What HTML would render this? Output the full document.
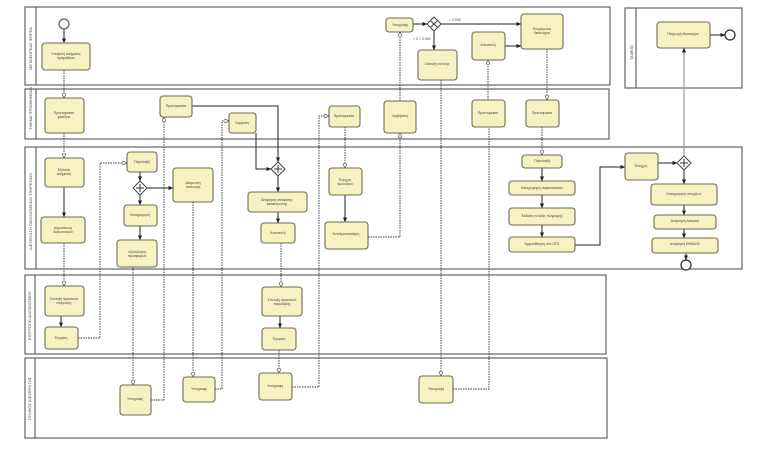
<!DOCTYPE html>
<html><head><meta charset="utf-8"><style>
html,body{margin:0;padding:0;background:#fff;}
svg{display:block;}
.p{fill:none;stroke:#555;stroke-width:1.1}
.t{fill:#f7f2c2;stroke:#6b6b55;stroke-width:1.1}
.s{fill:none;stroke:#222;stroke-width:1}
.d{fill:none;stroke:#333;stroke-width:0.9;stroke-dasharray:1.5 1}
.g{fill:none;stroke:#999;stroke-width:1.2}
text{font-family:"Liberation Sans",sans-serif;fill:#444;}
.x{font-size:3.4px;text-anchor:middle}
.l{font-size:4px}
</style></head><body>
<svg width="768" height="450" viewBox="0 0 768 450">
<defs>
<marker id="a" markerWidth="5" markerHeight="5" refX="4.5" refY="2.5" orient="auto" markerUnits="userSpaceOnUse"><path d="M0,0.5 L5,2.5 L0,4.5z" fill="#222"/></marker>
<marker id="o" markerWidth="5" markerHeight="5" refX="4.5" refY="2.5" orient="auto" markerUnits="userSpaceOnUse"><path d="M0,0.5 L5,2.5 L0,4.5z" fill="#fff" stroke="#333" stroke-width="0.6"/></marker>
</defs>
<!-- pools -->
<rect class="p" x="25" y="7" width="585" height="78"/><line class="p" x1="36" y1="7" x2="36" y2="85"/>
<rect class="p" x="25" y="89" width="584" height="50"/><line class="p" x1="36" y1="89" x2="36" y2="139"/>
<rect class="p" x="25" y="147" width="717" height="122"/><line class="p" x1="36" y1="147" x2="36" y2="269"/>
<rect class="p" x="25" y="275" width="581" height="79"/><line class="p" x1="35" y1="275" x2="35" y2="354"/>
<rect class="p" x="25" y="358" width="582" height="80"/><line class="p" x1="35" y1="358" x2="35" y2="438"/>
<rect class="p" x="625" y="8" width="117" height="80"/><line class="p" x1="636" y1="8" x2="636" y2="88"/>
<g class="l">
<text transform="translate(32,70) rotate(-90)">ΜΕΤΑΦΟΡΕΑΣ ΦΟΡΕΑ</text>
<text transform="translate(32,130) rotate(-90)">ΤΜΗΜΑ ΠΡΟΜΗΘΕΙΩΝ</text>
<text transform="translate(32,250) rotate(-90)">ΔΙΕΥΘΥΝΣΗ ΟΙΚΟΝΟΜΙΚΩΝ ΥΠΗΡΕΣΙΩΝ</text>
<text transform="translate(31,340) rotate(-90)">ΕΠΙΤΡΟΠΗ ΔΙΑΓΩΝΙΣΜΟΥ</text>
<text transform="translate(31,420) rotate(-90)">ΓΕΝΙΚΟΣ ΔΙΕΥΘΥΝΤΗΣ</text>
<text transform="translate(633,60) rotate(-90)">ΤΑΜΕΙΟ</text>
</g>
<!-- connectors -->
<g>
<line class="s" x1="64" y1="29" x2="64" y2="43" marker-end="url(#a)"/>
<path class="d" d="M64,70 V98" marker-end="url(#o)"/>
<path class="d" d="M64,133 V158" marker-end="url(#o)"/>
<path class="s" d="M64,187 V217" marker-end="url(#a)"/>
<path class="d" d="M64,243 V286" marker-end="url(#o)"/>
<path class="s" d="M61,316 V327" marker-end="url(#a)"/>
<path class="d" d="M78,338 H100 V163 H127" marker-end="url(#o)"/>
<path class="s" d="M140,172 V181" marker-end="url(#a)"/>
<path class="s" d="M140,195 V205" marker-end="url(#a)"/>
<path class="s" d="M147,188 H173" marker-end="url(#a)"/>
<path class="s" d="M140,226 V240" marker-end="url(#a)"/>
<path class="d" d="M133,267 V385" marker-end="url(#o)"/>
<path class="d" d="M151,400 H164 V117" marker-end="url(#o)"/>
<path class="d" d="M193,202 V377" marker-end="url(#o)"/>
<path class="d" d="M215,389 H222 V121 H229" marker-end="url(#o)"/>
<path class="s" d="M192,106 H278 V162" marker-end="url(#a)"/>
<path class="s" d="M256,133 V169 H271" marker-end="url(#a)"/>
<path class="s" d="M278,176 V192" marker-end="url(#a)"/>
<path class="s" d="M278,212 V223" marker-end="url(#a)"/>
<path class="d" d="M281,243 V287" marker-end="url(#o)"/>
<path class="s" d="M280,316 V328" marker-end="url(#a)"/>
<path class="d" d="M279,350 V373" marker-end="url(#o)"/>
<path class="d" d="M292,387 H319 V116 H329" marker-end="url(#o)"/>
<path class="d" d="M345,127 V168" marker-end="url(#o)"/>
<path class="s" d="M345,195 V222" marker-end="url(#a)"/>
<path class="d" d="M368,237 H400 V133" marker-end="url(#o)"/>
<path class="d" d="M400,101 V32" marker-end="url(#o)"/>
<path class="s" d="M413,24 H427" marker-end="url(#a)"/>
<path class="s" d="M441,24 H521" marker-end="url(#a)"/>
<path class="s" d="M434,31 V50" marker-end="url(#a)"/>
<path class="d" d="M441,80 V376" marker-end="url(#o)"/>
<path class="d" d="M453,389 H489 V127"/>
<path class="d" d="M488,100 V60" marker-end="url(#o)"/>
<path class="s" d="M505,46 H521" marker-end="url(#a)"/>
<path class="d" d="M547,49 V100" marker-end="url(#o)"/>
<path class="d" d="M542,127 V155" marker-end="url(#o)"/>
<path class="s" d="M542,168 V181" marker-end="url(#a)"/>
<path class="s" d="M542,195 V208" marker-end="url(#a)"/>
<path class="s" d="M542,225 V237" marker-end="url(#a)"/>
<path class="s" d="M575,245 H600 V167 H625" marker-end="url(#a)"/>
<path class="s" d="M658,163 H677" marker-end="url(#a)"/>
<path class="g" d="M684,156 V48" marker-end="url(#a)"/>
<path class="s" d="M684,170 V184" marker-end="url(#a)"/>
<path class="s" d="M684,205 V215" marker-end="url(#a)"/>
<path class="s" d="M684,229 V238" marker-end="url(#a)"/>
<path class="s" d="M686,253 V260" marker-end="url(#a)"/>
<path class="s" d="M710,35 H725" marker-end="url(#a)"/>
</g>
<text x="449" y="21" style="font-size:3.5px">&gt; 2.000</text>
<text x="413" y="40" style="font-size:3.5px">&gt; 0 &lt; 2.000</text>
<!-- events -->
<circle cx="64" cy="24" r="5" fill="#fff" stroke="#444" stroke-width="1"/>
<circle cx="686" cy="265" r="5" fill="#fff" stroke="#333" stroke-width="1.3"/>
<circle cx="730" cy="35" r="5" fill="#fff" stroke="#333" stroke-width="1.3"/>
<!-- gateways -->
<g fill="#fff" stroke="#444" stroke-width="1">
<path d="M140,181 L147,188 L140,195 L133,188z"/>
<path d="M278,162 L285,169 L278,176 L271,169z"/>
<path d="M434,17 L441,24 L434,31 L427,24z"/>
<path d="M684,156 L691,163 L684,170 L677,163z"/>
</g>
<g stroke="#333" stroke-width="1">
<path d="M140,184V192M136,188H144"/><path d="M278,165V173M274,169H282"/><path d="M684,159V167M680,163H688"/>
<path d="M431,21L437,27M437,21L431,27"/>
</g>
<!-- tasks -->
<g class="t">
<rect x="42" y="43" width="48" height="27" rx="3"/>
<rect x="45" y="98" width="39" height="35" rx="3"/>
<rect x="45" y="158" width="39" height="29" rx="3"/>
<rect x="41" y="217" width="44" height="26" rx="3"/>
<rect x="127" y="152" width="30" height="20" rx="3"/>
<rect x="124" y="205" width="33" height="21" rx="3"/>
<rect x="117" y="240" width="40" height="27" rx="3"/>
<rect x="173" y="168" width="40" height="34" rx="3"/>
<rect x="160" y="96" width="32" height="21" rx="3"/>
<rect x="229" y="113" width="27" height="20" rx="3"/>
<rect x="248" y="192" width="59" height="20" rx="3"/>
<rect x="261" y="223" width="34" height="20" rx="3"/>
<rect x="329" y="106" width="31" height="21" rx="3"/>
<rect x="329" y="168" width="33" height="27" rx="3"/>
<rect x="325" y="222" width="43" height="27" rx="3"/>
<rect x="45" y="286" width="39" height="30" rx="3"/>
<rect x="45" y="327" width="33" height="22" rx="3"/>
<rect x="262" y="287" width="40" height="29" rx="3"/>
<rect x="262" y="328" width="34" height="22" rx="3"/>
<rect x="120" y="385" width="31" height="30" rx="3"/>
<rect x="183" y="377" width="32" height="25" rx="3"/>
<rect x="259" y="373" width="33" height="27" rx="3"/>
<rect x="419" y="376" width="34" height="27" rx="3"/>
<rect x="386" y="18" width="27" height="14" rx="3"/>
<rect x="418" y="50" width="39" height="30" rx="3"/>
<rect x="472" y="32" width="33" height="28" rx="3"/>
<rect x="521" y="14" width="42" height="35" rx="3"/>
<rect x="384" y="101" width="32" height="32" rx="3"/>
<rect x="472" y="100" width="33" height="27" rx="3"/>
<rect x="526" y="100" width="33" height="27" rx="3"/>
<rect x="522" y="155" width="40" height="13" rx="3"/>
<rect x="509" y="181" width="66" height="14" rx="3"/>
<rect x="509" y="208" width="66" height="17" rx="3"/>
<rect x="509" y="237" width="66" height="15" rx="3"/>
<rect x="625" y="153" width="33" height="27" rx="3"/>
<rect x="651" y="184" width="66" height="21" rx="3"/>
<rect x="654" y="215" width="62" height="14" rx="3"/>
<rect x="652" y="238" width="66" height="15" rx="3"/>
<rect x="657" y="22" width="53" height="26" rx="3"/>
</g>
<g class="x">
<text x="66" y="55">Υποβολή αιτήματος</text><text x="66" y="59">προμήθειας</text>
<text x="64" y="114">Προετοιμασία</text><text x="64" y="118">φακέλου</text>
<text x="64" y="171">Εξέταση</text><text x="64" y="175">αιτήματος</text>
<text x="63" y="229">Δημοσίευση</text><text x="63" y="233">διαγωνισμού</text>
<text x="142" y="163">Παραλαβή</text>
<text x="140" y="216">Καταχώρηση</text>
<text x="137" y="253">Αξιολόγηση</text><text x="137" y="257">προσφορών</text>
<text x="193" y="184">Δέσμευση</text><text x="193" y="188">πίστωσης</text>
<text x="176" y="107">Προετοιμασία</text>
<text x="242" y="124">Σύμβαση</text>
<text x="277" y="201">Ανάρτηση απόφασης</text><text x="277" y="205">κατακύρωσης</text>
<text x="278" y="234">Αποστολή</text>
<text x="344" y="117">Προετοιμασία</text>
<text x="345" y="181">Έλεγχος</text><text x="345" y="185">τιμολογίου</text>
<text x="346" y="235">Ενταλματοποίηση</text>
<text x="64" y="300">Σύνταξη πρακτικού</text><text x="64" y="304">επιτροπής</text>
<text x="61" y="339">Έγκριση</text>
<text x="282" y="301">Σύνταξη πρακτικού</text><text x="282" y="305">παραλαβής</text>
<text x="279" y="340">Έγκριση</text>
<text x="135" y="400">Υπογραφή</text>
<text x="199" y="390">Υπογραφή</text>
<text x="275" y="387">Υπογραφή</text>
<text x="436" y="390">Υπογραφή</text>
<text x="400" y="26">Υπογραφή</text>
<text x="437" y="65">Σύνταξη εντολής</text>
<text x="488" y="46">Αποστολή</text>
<text x="542" y="30">Ενημέρωση</text><text x="542" y="34">δικαιούχου</text>
<text x="400" y="117">Διαβίβαση</text>
<text x="488" y="114">Προετοιμασία</text>
<text x="542" y="114">Προετοιμασία</text>
<text x="542" y="162">Παραλαβή</text>
<text x="542" y="189">Καταχώρηση παραστατικών</text>
<text x="542" y="217">Έκδοση εντολής πληρωμής</text>
<text x="542" y="245">Αρχειοθέτηση στο ΟΠΣ</text>
<text x="641" y="167">Έλεγχος</text>
<text x="684" y="195">Καταχώρηση στοιχείων</text>
<text x="685" y="222">Ανάρτηση Διαύγεια</text>
<text x="685" y="245">Ανάρτηση ΚΗΜΔΗΣ</text>
<text x="683" y="35">Πληρωμή δικαιούχου</text>
</g>
</svg>
</body></html>
